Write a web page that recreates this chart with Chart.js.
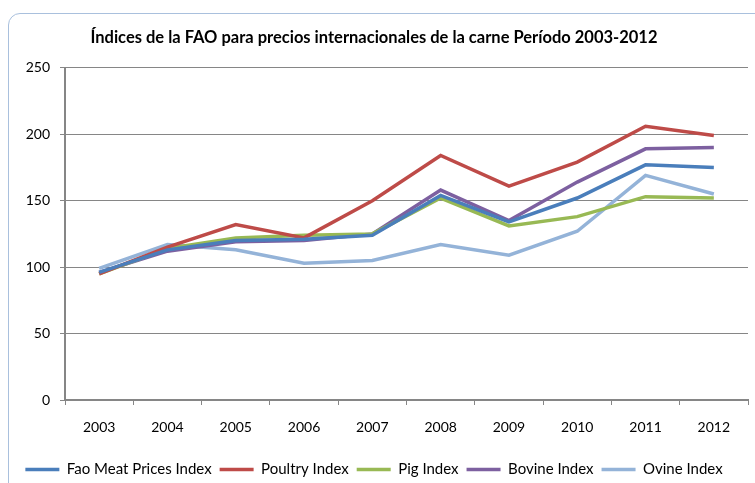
<!DOCTYPE html>
<html>
<head>
<meta charset="utf-8">
<script src="https://cdn.jsdelivr.net/npm/chart.js@4"></script>
<style>
  body { margin: 0; background: #fff; }
  #frame {
    position: absolute; left: 8px; top: 13px; width: 800px; height: 520px;
    border: 1px solid #a9c0dd; border-radius: 12px;
  }
  #chart { position: absolute; left: 0; top: 0; }
</style>
</head>
<body>
<div id="frame"></div>
<canvas id="chart" width="755" height="483"></canvas>
<script>
// data
var years = ['2003', '2004', '2005', '2006', '2007', '2008', '2009', '2010', '2011', '2012'];
var faoMeat = [96, 113, 120, 121, 124, 154, 134, 152, 177, 175];
var poultry = [95, 115, 132, 122, 150, 184, 161, 179, 206, 199];
var pig = [95, 114, 122, 124, 125, 152, 131, 138, 153, 152];
var bovine = [96, 112, 119, 120, 125, 158, 135, 164, 189, 190];
var ovine = [99, 117, 113, 103, 105, 117, 109, 127, 169, 155];

var font = 'Lato';

function line(label, data, color) {
    return {
        label: label,
        data: data,
        borderColor: color,
        backgroundColor: color,
        borderWidth: 3.5,
        pointRadius: 0,
        tension: 0,
        fill: false
    };
}

var chart = new Chart(document.getElementById('chart'), {
    type: 'line',
    data: {
        labels: years,
        datasets: [
            line('Fao Meat Prices Index', faoMeat, '#4a7ebb'),
            line('Poultry Index', poultry, '#be4b48'),
            line('Pig Index', pig, '#98b954'),
            line('Bovine Index', bovine, '#7d60a0'),
            line('Ovine Index', ovine, '#94b3d8')
        ]
    },
    options: {
        responsive: false,
        animation: false,
        layout: { padding: { left: 0, right: 7, top: 0, bottom: -4 } },
        plugins: {
            title: {
                display: true,
                text: 'Índices de la FAO para precios internacionales de la carne Período 2003-2012',
                color: '#000',
                font: { family: font, size: 16.5, weight: 'bold' },
                padding: { top: 28, bottom: 20 }
            },
            legend: {
                position: 'bottom',
                labels: {
                    color: '#000',
                    font: { family: font, size: 15 },
                    usePointStyle: true,
                    pointStyle: 'line',
                    pointStyleWidth: 34,
                    padding: 8
                }
            },
            tooltip: { enabled: false }
        },
        scales: {
            x: {
                offset: true,
                grid: {
                    offset: true,
                    drawOnChartArea: false,
                    tickLength: 5,
                    color: '#868686'
                },
                border: { color: '#868686', width: 2 },
                ticks: {
                    color: '#000',
                    font: { family: font, size: 14 },
                    padding: 14,
                    maxRotation: 0
                },
                afterFit: function (scale) { scale.height = 54; }
            },
            y: {
                min: 0,
                max: 250,
                grid: { color: '#868686', tickLength: 5 },
                border: { color: '#868686', width: 2 },
                ticks: {
                    stepSize: 50,
                    color: '#000',
                    font: { family: font, size: 14 },
                    padding: 10
                },
                afterFit: function (scale) { scale.width = 65; }
            }
        }
    }
});
</script>
</body>
</html>
